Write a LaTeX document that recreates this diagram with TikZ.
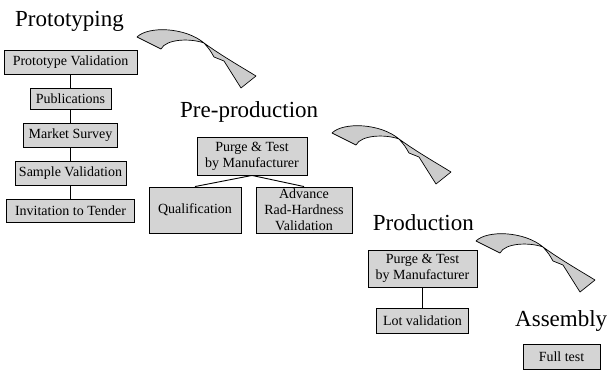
\documentclass[tikz,border=0pt]{standalone}
\usepackage{fontspec}
\setmainfont{Liberation Serif}
\definecolor{boxfill}{RGB}{212,212,212}
\definecolor{arrowfill}{RGB}{204,204,204}
\begin{document}
\begin{tikzpicture}[x=1pt,y=-1pt,
  box/.style={draw=black, line width=0.9pt, fill=boxfill, inner sep=0pt, align=center,
    font=\fontsize{14}{16}\selectfont},
  title/.style={inner sep=0pt, anchor=base west, font=\fontsize{23}{26}\selectfont},
  link/.style={draw=black, line width=0.9pt},
  curvyarrow/.style={draw=black, line width=0.7pt, fill=arrowfill, line join=round},
  bentarrow/.pic={
    \filldraw[curvyarrow] (0,0) .. controls (11,-11) and (48,-10) .. (67,6)
      .. controls (85,19) and (106,31) .. (119,39) -- (104,51) -- (87,24) -- (77,20)
      .. controls (73,13) .. (67,6)
      .. controls (53,1) and (29,2) .. (24,12) -- cycle;
  }]
\useasboundingbox (0,0) rectangle (608,371);

% titles
\node[title] (t1) at (15,26.7) {Prototyping};
\node[title] (t2) at (180,117.3) {Pre-production};
\node[title] (t3) at (372.7,231) {Production};
\node[title] (t4) at (515,326.7) {Assembly};

% curved arrows
\pic at (137,37) {bentarrow};
\pic at (332,133) {bentarrow};
\pic at (476,241) {bentarrow};

% prototyping column
\node[box, minimum width=133pt, minimum height=24pt] (p1) at (70.5,62) {Prototype Validation};
\node[box, minimum width=81pt, minimum height=21pt] (p2) at (70.5,98.5) {Publications};
\node[box, minimum width=94pt, minimum height=24pt] (p3) at (70.5,135) {Market Survey};
\node[box, minimum width=111pt, minimum height=24pt] (p4) at (70.5,173) {Sample Validation};
\node[box, minimum width=128pt, minimum height=23pt] (p5) at (70.5,210.5) {Invitation to Tender};
\draw[link] (p1.south) -- (p2.north);
\draw[link] (p2.south) -- (p3.north);
\draw[link] (p3.south) -- (p4.north);
\draw[link] (p4.south) -- (p5.north);

% pre-production
\node[box, minimum width=110pt, minimum height=38pt] (q1) at (252,156) {Purge \& Test\\by Manufacturer};
\node[box, minimum width=92pt, minimum height=46pt] (q2) at (195,210) {Qualification};
\node[box, minimum width=96pt, minimum height=46pt] (q3) at (304,210) {Advance\\Rad-Hardness\\Validation};
\draw[link] (q1.south) -- (q2.north);
\draw[link] (q1.south) -- (q3.north);

% production
\node[box, minimum width=109pt, minimum height=37pt] (r1) at (422.5,268.5) {Purge \& Test\\by Manufacturer};
\node[box, minimum width=92pt, minimum height=25pt] (r2) at (422.5,320.5) {Lot validation};
\draw[link] (r1.south) -- (r2.north);

% assembly
\node[box, minimum width=77pt, minimum height=25pt] (a1) at (561.5,356.5) {Full test};
\end{tikzpicture}
\end{document}
